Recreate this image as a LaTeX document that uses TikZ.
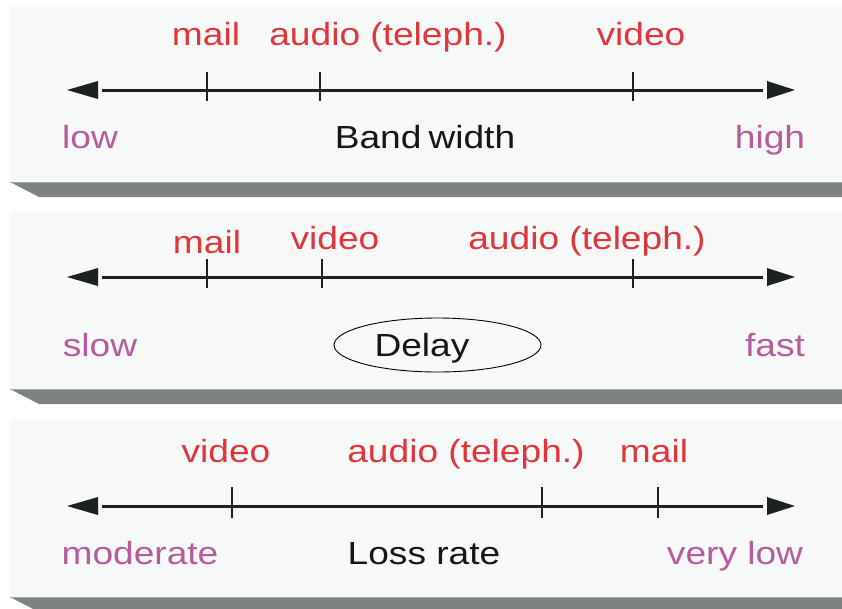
\documentclass[tikz,border=0pt]{standalone}
\usepackage{fontspec}
\setmainfont{Liberation Sans}[FakeStretch=1.16]
\usetikzlibrary{shapes.geometric}

\definecolor{panelbg}{HTML}{F7F8F8}
\definecolor{bevel}{HTML}{7D8283}
\definecolor{bevelhi}{HTML}{A4A8A9}
\definecolor{medred}{HTML}{E0353B}
\definecolor{rangepurple}{HTML}{B65C9C}
\definecolor{axisink}{HTML}{1E2122}
\definecolor{titleink}{HTML}{141617}

\newcommand\labelfont{\fontsize{32}{38}\selectfont}

\tikzset{
  panelface/.style={fill=panelbg, draw=none},
  panelbevel/.style={fill=bevel, draw=none},
  axisline/.style={draw=axisink, line width=3pt},
  tickmark/.style={draw=axisink, line width=2pt},
  axishead/.style={fill=axisink, draw=none},
  lbl/.style={anchor=base, inner sep=0pt, font=\labelfont},
  medialabel/.style={lbl, text=medred},
  rangelabel/.style={lbl, text=rangepurple},
  titlelabel/.style={lbl, text=titleink},
}

\begin{document}
\begin{tikzpicture}[x=1pt, y=-1pt]
\useasboundingbox (0,0) rectangle (842,608);
\clip (0,0) rectangle (842,608);
\fill[white] (0,0) rectangle (842,608);

% three raised panels with a bevelled lower edge
\foreach \t/\b in {7/182, 212/389, 420/597} {
  \fill[panelface] (10,\t) rectangle (842,\b);
  \fill[panelbevel] (10,\b) -- (842,\b) -- (842,\b+15) -- (39,\b+15) -- cycle;
  \draw[bevelhi, line width=1.2pt] (10,\b+0.6) -- (842,\b+0.6);
}

% double-headed scale axes
\foreach \y/\n in {90/bw, 277/dl, 506/lr} {
  \coordinate (\n-left) at (102,\y);
  \coordinate (\n-right) at (763,\y);
  \draw[axisline] (\n-left) -- (\n-right);
  \fill[axishead] (67,\y) -- (98,\y-9) -- (98,\y+9) -- cycle;
  \fill[axishead] (795,\y) -- (767,\y-9) -- (767,\y+9) -- cycle;
}

% --- Band width ---
\foreach \x in {207,320,633} \draw[tickmark] (\x,72) -- (\x,101);
\node[medialabel] (bw-mail)  at (206,45) {mail};
\node[medialabel] (bw-audio) at (388,45) {audio (teleph.)};
\node[medialabel] (bw-video) at (641,45) {video};
\node[rangelabel] (bw-low)   at (90,148) {low};
\node[titlelabel] (bw-title) at (425,148) {Band\hspace{0.22em}width};
\node[rangelabel] (bw-high)  at (770,148) {high};

% --- Delay ---
\foreach \x in {207,322,633} \draw[tickmark] (\x,259) -- (\x,288);
\node[medialabel] (dl-mail)  at (207,253) {mail};
\node[medialabel] (dl-video) at (335,249) {video};
\node[medialabel] (dl-audio) at (587,249) {audio (teleph.)};
\node[rangelabel] (dl-slow)  at (100,356) {slow};
\node[ellipse, draw=black, line width=0.9pt, minimum width=207pt,
      minimum height=54pt, inner sep=0pt] (dl-ring) at (437.5,345) {};
\node[titlelabel] (dl-title) at (422,356) {Delay};
\node[rangelabel] (dl-fast)  at (775,356) {fast};

% --- Loss rate ---
\foreach \x in {232,542,658} \draw[tickmark] (\x,487) -- (\x,518);
\node[medialabel] (lr-video) at (226,462) {video};
\node[medialabel] (lr-audio) at (466,462) {audio (teleph.)};
\node[medialabel] (lr-mail)  at (654,462) {mail};
\node[rangelabel] (lr-mod)   at (140,564) {moderate};
\node[titlelabel] (lr-title) at (424,564) {Loss rate};
\node[rangelabel] (lr-vlow)  at (735,564) {very low};
\end{tikzpicture}
\end{document}
